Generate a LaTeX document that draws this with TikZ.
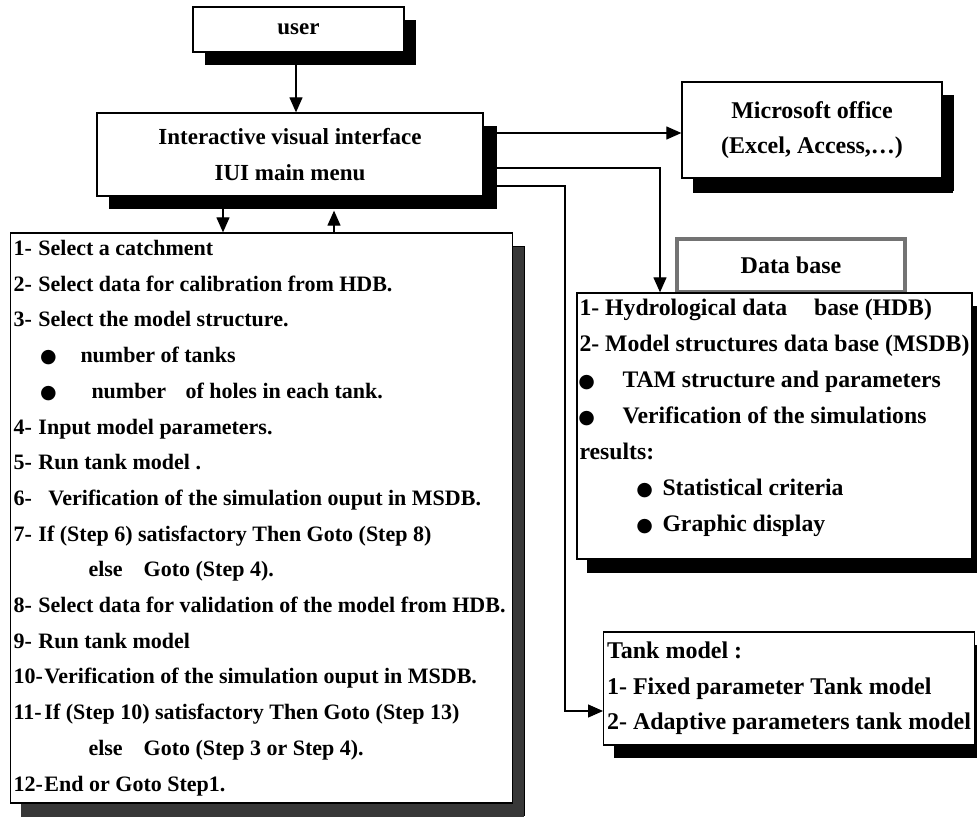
\documentclass[tikz,border=0pt]{standalone}
\usepackage{fontspec}
\setmainfont{Liberation Serif}
\newfontfamily\bulfont{DejaVu Sans}
\usetikzlibrary{shapes, shadows, arrows.meta}

\newcommand{\bul}{\makebox[0pt]{\bulfont\fontsize{19}{19}\selectfont ●}}
\newcommand{\stepno}[2][25pt]{\makebox[#1][l]{#2}}

\begin{document}
\begin{tikzpicture}[x=1pt, y=-1pt,
    box/.style={rectangle, draw=black, line width=1.3pt, fill=white, text=black,
        drop shadow={shadow xshift=12pt, shadow yshift=-13pt, fill=black, opacity=1}},
    greybox/.style={rectangle, draw=black!55, line width=4.5pt, fill=white, text=black},
    titlefont/.style={font=\fontsize{23}{36}\selectfont\bfseries},
    bodyfont/.style={font=\fontsize{24}{35.5}\selectfont\bfseries},
    stepfont/.style={font=\fontsize{22}{35.7}\selectfont\bfseries},
    listtext/.style={align=left, inner sep=0pt, anchor=north west, text=black},
    arr/.style={-{Triangle[length=15pt, width=13pt]}, line width=1.2pt}
]
\useasboundingbox (0,0) rectangle (977,817);

\node (user) [box, titlefont, minimum width=211pt, minimum height=45pt] at (298.5,29.5) {user};
\node (IUI) [box, titlefont, align=center, minimum width=386pt, minimum height=83pt,
    drop shadow={shadow xshift=14pt, shadow yshift=-13pt, fill=black, opacity=1}]
    at (290,154.5) {Interactive visual interface\\IUI main menu};
\node (MS) [box, bodyfont, align=center, minimum width=260pt, minimum height=96pt,
    drop shadow={shadow xshift=11pt, shadow yshift=-15pt, fill=black, opacity=1}]
    at (812,130) {Microsoft office\\(Excel, Access,\ldots)};

% list of steps
\node (steps) [box, stepfont, align=left, minimum width=501pt, minimum height=570pt,
    drop shadow={shadow xshift=11pt, shadow yshift=-14pt, fill=black!78, opacity=1}]
    at (261.5,518) {%
    \stepno{1-}Select a catchment\\
    \stepno{2-}Select data for calibration from HDB.\\
    \stepno{3-}Select the model structure.\\
    \hspace*{35pt}\bul\hspace*{32pt}number of tanks\\
    \hspace*{35pt}\bul\hspace*{43pt}number\hspace*{14pt} of holes in each tank.\\
    \stepno{4-}Input model parameters.\\
    \stepno{5-}Run tank model .\\
    \stepno[35pt]{6-}Verification of the simulation ouput in MSDB.\\
    \stepno{7-}If (Step 6) satisfactory Then Goto (Step 8)\\
    \hspace*{75pt}else\hspace*{21pt}Goto (Step 4).\\
    \makebox[496pt][l]{\stepno{8-}Select data for validation of the model from HDB.}\\
    \stepno{9-}Run tank model\\
    \stepno[31pt]{10-}Verification of the simulation ouput in MSDB.\\
    \stepno[31pt]{11-}If (Step 10) satisfactory Then Goto (Step 13)\\
    \hspace*{75pt}else\hspace*{21pt}Goto (Step 3 or Step 4).\\
    \stepno[31pt]{12-}End or Goto Step1.};

% data base
\node (dbtitle) [greybox, bodyfont, minimum width=228pt, minimum height=53pt] at (791,265.5) {Data base};
\node (dbbody) [box, minimum width=395pt, minimum height=266pt,
    drop shadow={shadow xshift=10pt, shadow yshift=-14pt, fill=black, opacity=1}] at (774.5,426) {};
\node (dbtext) [listtext, font=\fontsize{23.7}{36}\selectfont\bfseries]
    at ([xshift=3pt, yshift=-6pt]dbbody.north west) {%
    1- Hydrological data\hspace*{21pt} base (HDB)\\
    2- Model structures data base (MSDB)\\
    \hspace*{7pt}\bul\hspace*{36pt}TAM structure and parameters\\
    \hspace*{7pt}\bul\hspace*{36pt}Verification of the simulations\\
    results:\\
    \hspace*{65pt}\bul\hspace*{18pt}Statistical criteria\\
    \hspace*{65pt}\bul\hspace*{18pt}Graphic display};

\node (tank) [box, bodyfont, align=left, minimum width=366pt, minimum height=113pt,
    drop shadow={shadow xshift=10pt, shadow yshift=-13pt, fill=black, opacity=1}]
    at (789,688.5) {Tank model :\\1- Fixed parameter Tank model\\2- Adaptive parameters tank model};

% connectors
\draw[arr] ([xshift=-2.5pt]user.south) -- ([xshift=6pt]IUI.north);
\draw[arr] ([xshift=-67pt]IUI.south) -- ([xshift=-38.5pt]steps.north);
\draw[arr] ([xshift=72.5pt]steps.north) -- ([xshift=44pt, yshift=-14pt]IUI.south);
\draw[arr] ([yshift=21.5pt]IUI.east) -- ([yshift=-3pt]MS.west);
\draw[arr] ([yshift=-13.5pt]IUI.east) -| ([xshift=-114.5pt]dbbody.north);
\draw[arr] ([yshift=-31.5pt]IUI.east) -| ([xshift=-38pt, yshift=-22.5pt]tank.west)
    -- ([yshift=-22.5pt]tank.west);
\end{tikzpicture}
\end{document}
